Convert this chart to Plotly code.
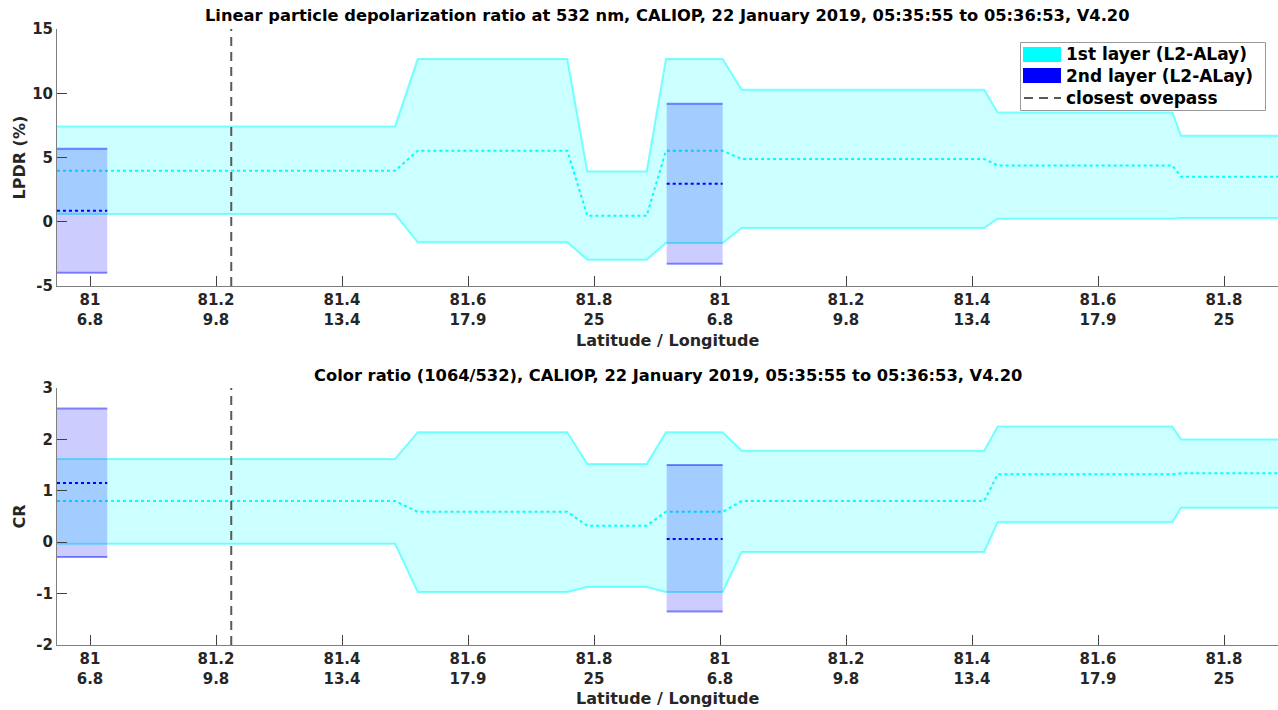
import plotly.graph_objects as go

# ---------------- data ----------------
tick_pos = [0, 1, 2, 3, 4, 5, 6, 7, 8, 9]
tick_lat = ["81", "81.2", "81.4", "81.6", "81.8", "81", "81.2", "81.4", "81.6", "81.8"]
tick_lon = ["6.8", "9.8", "13.4", "17.9", "25", "6.8", "9.8", "13.4", "17.9", "25"]

# vertices of the 1st layer curves (x in tick units)
x_l1 = [-0.262, 2.421, 2.601, 3.788, 3.947, 4.418, 4.571, 5.021, 5.172, 7.097, 7.204, 8.590, 8.659, 9.43]

lpdr1_up = [7.42, 7.42, 12.66, 12.66, 3.92, 3.92, 12.66, 12.66, 10.27, 10.27, 8.51, 8.51, 6.69, 6.69]
lpdr1_mean = [3.97, 3.97, 5.53, 5.53, 0.47, 0.47, 5.53, 5.53, 4.88, 4.88, 4.38, 4.38, 3.50, 3.50]
lpdr1_low = [0.60, 0.60, -1.60, -1.60, -2.96, -2.96, -1.65, -1.65, -0.49, -0.49, 0.23, 0.23, 0.29, 0.29]

cr1_up = [1.62, 1.62, 2.14, 2.14, 1.52, 1.52, 2.14, 2.14, 1.78, 1.78, 2.25, 2.25, 2.00, 2.00]
cr1_mean = [0.80, 0.80, 0.59, 0.59, 0.32, 0.32, 0.59, 0.59, 0.80, 0.80, 1.32, 1.32, 1.34, 1.34]
cr1_low = [-0.03, -0.03, -0.97, -0.97, -0.87, -0.87, -0.97, -0.97, -0.19, -0.19, 0.39, 0.39, 0.67, 0.67]

# 2nd layer segments: [x_start, x_end]
l2_segments = [[-0.262, 0.137], [4.577, 5.021]]
lpdr2_up = [5.68, 9.18]
lpdr2_mean = [0.86, 2.96]
lpdr2_low = [-3.97, -3.27]
cr2_up = [2.60, 1.50]
cr2_mean = [1.15, 0.06]
cr2_low = [-0.29, -1.35]

overpass_x = 1.121

titles = [
    "Linear particle depolarization ratio at 532 nm, CALIOP, 22 January 2019, 05:35:55 to 05:36:53, V4.20",
    "Color ratio (1064/532), CALIOP, 22 January 2019, 05:35:55 to 05:36:53, V4.20",
]
xlabel = "Latitude / Longitude"
ylabels = ["LPDR (%)", "CR"]
yranges = [[-5, 15], [-2, 3]]
ytickvals = [[-5, 0, 5, 10, 15], [-2, -1, 0, 1, 2, 3]]
legend_labels = ["1st layer (L2-ALay)", "2nd layer (L2-ALay)", "closest ovepass"]

# ---------------- style ----------------
FONT = "DejaVu Sans"
TXT = "#262626"
CYAN_FILL = "rgba(0,255,255,0.2)"
CYAN_EDGE = "rgba(0,255,255,0.5)"
BLUE_FILL = "rgba(0,0,255,0.2)"
BLUE_EDGE = "rgba(0,0,255,0.45)"
FS_TICK = 15
FS_LAB = 16
FS_TITLE = 16.3

W, H = 1278, 710
ML, MR, MT, MB = 57, 0, 29, 65
plot_h = H - MT - MB
sub_h = 257 / plot_h
domains = [[1 - sub_h, 1.0], [0.0, sub_h]]

fig = go.Figure()

panels = [
    (lpdr1_up, lpdr1_mean, lpdr1_low, lpdr2_up, lpdr2_mean, lpdr2_low),
    (cr1_up, cr1_mean, cr1_low, cr2_up, cr2_mean, cr2_low),
]

for i, (u1, m1, lo1, u2, m2, lo2) in enumerate(panels):
    xa = "x" if i == 0 else "x2"
    ya = "y" if i == 0 else "y2"
    # 1st layer band
    fig.add_trace(go.Scatter(x=x_l1, y=lo1, mode="lines", line=dict(color=CYAN_EDGE, width=2),
                             xaxis=xa, yaxis=ya, showlegend=False, hoverinfo="skip"))
    fig.add_trace(go.Scatter(x=x_l1, y=u1, mode="lines", line=dict(color=CYAN_EDGE, width=2),
                             fill="tonexty", fillcolor=CYAN_FILL,
                             xaxis=xa, yaxis=ya, showlegend=False, hoverinfo="skip"))
    fig.add_trace(go.Scatter(x=x_l1, y=m1, mode="lines", line=dict(color="#00ffff", width=2, dash="dot"),
                             xaxis=xa, yaxis=ya, showlegend=False, hoverinfo="skip"))
    # 2nd layer boxes
    for k, (xs, xe) in enumerate(l2_segments):
        fig.add_trace(go.Scatter(x=[xs, xe, xe, xs, xs], y=[lo2[k], lo2[k], u2[k], u2[k], lo2[k]],
                                 mode="lines", line=dict(width=0), fill="toself", fillcolor=BLUE_FILL,
                                 xaxis=xa, yaxis=ya, showlegend=False, hoverinfo="skip"))
        for yy in (lo2[k], u2[k]):
            fig.add_trace(go.Scatter(x=[xs, xe], y=[yy, yy], mode="lines",
                                     line=dict(color=BLUE_EDGE, width=2),
                                     xaxis=xa, yaxis=ya, showlegend=False, hoverinfo="skip"))
        fig.add_trace(go.Scatter(x=[xs, xe], y=[m2[k], m2[k]], mode="lines",
                                 line=dict(color="#0000ff", width=2, dash="dot"),
                                 xaxis=xa, yaxis=ya, showlegend=False, hoverinfo="skip"))
    # closest overpass
    fig.add_trace(go.Scatter(x=[overpass_x, overpass_x], y=yranges[i], mode="lines",
                             line=dict(color="#595959", width=2, dash="9px,6px"),
                             xaxis=xa, yaxis=ya, showlegend=False, hoverinfo="skip"))

tick_text = [f"{a}<br>{b}" for a, b in zip(tick_lat, tick_lon)]
x_range = [(ML - 90) / 126, (W - MR - 90) / 126]

axis_common = dict(showline=True, linecolor="#7f7f7f", linewidth=1, ticks="inside", ticklen=10,
                   tickcolor="#404040", tickwidth=1, showgrid=False, zeroline=False,
                   tickfont=dict(family=FONT, size=FS_TICK, color=TXT, weight="bold"))

for i in range(2):
    xkey = "xaxis" if i == 0 else "xaxis2"
    ykey = "yaxis" if i == 0 else "yaxis2"
    fig.update_layout({
        xkey: dict(axis_common, range=x_range, tickvals=tick_pos, ticktext=tick_text,
                   anchor="y" if i == 0 else "y2"),
        ykey: dict(axis_common, range=yranges[i], tickvals=ytickvals[i],
                   ticktext=[str(v) for v in ytickvals[i]], domain=domains[i],
                   anchor="x" if i == 0 else "x2"),
    })


def px_x(p):
    return (p - ML) / (W - ML - MR)


def px_y(p):
    return 1 - (p - MT) / plot_h


annotations = []
title_y_px = [15, 375]
for t, ypx in zip(titles, title_y_px):
    annotations.append(dict(text=t, x=0.5, y=px_y(ypx), xref="paper", yref="paper",
                            xanchor="center", yanchor="middle", showarrow=False,
                            font=dict(family=FONT, size=FS_TITLE, color="#000000", weight="bold")))

# x-axis titles
for ypx in [341, 699]:
    annotations.append(dict(text=xlabel, x=0.5, y=px_y(ypx), xref="paper", yref="paper",
                            xanchor="center", yanchor="middle", showarrow=False,
                            font=dict(family=FONT, size=FS_LAB, color=TXT, weight="bold")))

# y-axis titles
for lab, dom in zip(ylabels, domains):
    annotations.append(dict(text=lab, x=px_x(19), y=(dom[0] + dom[1]) / 2, xref="paper", yref="paper",
                            xanchor="center", yanchor="middle", textangle=-90, showarrow=False,
                            font=dict(family=FONT, size=FS_LAB, color=TXT, weight="bold")))

# manual legend (paper coordinates converted from pixels)
shapes = [
    dict(type="rect", xref="paper", yref="paper", x0=px_x(1020.5), x1=px_x(1265.5), y0=px_y(110.5), y1=px_y(42.5),
         line=dict(color="#999999", width=1), fillcolor="white", layer="above"),
    dict(type="rect", xref="paper", yref="paper", x0=px_x(1023), x1=px_x(1061), y0=px_y(62), y1=px_y(47),
         line=dict(width=0), fillcolor="#00ffff", layer="above"),
    dict(type="rect", xref="paper", yref="paper", x0=px_x(1023), x1=px_x(1061), y0=px_y(83), y1=px_y(68),
         line=dict(width=0), fillcolor="#0000ff", layer="above"),
    dict(type="line", xref="paper", yref="paper", x0=px_x(1024), x1=px_x(1061), y0=px_y(98), y1=px_y(98),
         line=dict(color="#595959", width=2, dash="9px,6px"), layer="above"),
]
for lab, ypx in zip(legend_labels, [54, 76, 98]):
    annotations.append(dict(text=lab, x=px_x(1064), y=px_y(ypx), xref="paper", yref="paper",
                            xanchor="left", yanchor="middle", showarrow=False,
                            font=dict(family=FONT, size=17, color="#000000", weight="bold")))

fig.update_layout(
    width=W, height=H,
    margin=dict(l=ML, r=MR, t=MT, b=MB, autoexpand=False),
    paper_bgcolor="white", plot_bgcolor="white",
    showlegend=False,
    annotations=annotations,
    shapes=shapes,
)

fig.write_html("out.html")
